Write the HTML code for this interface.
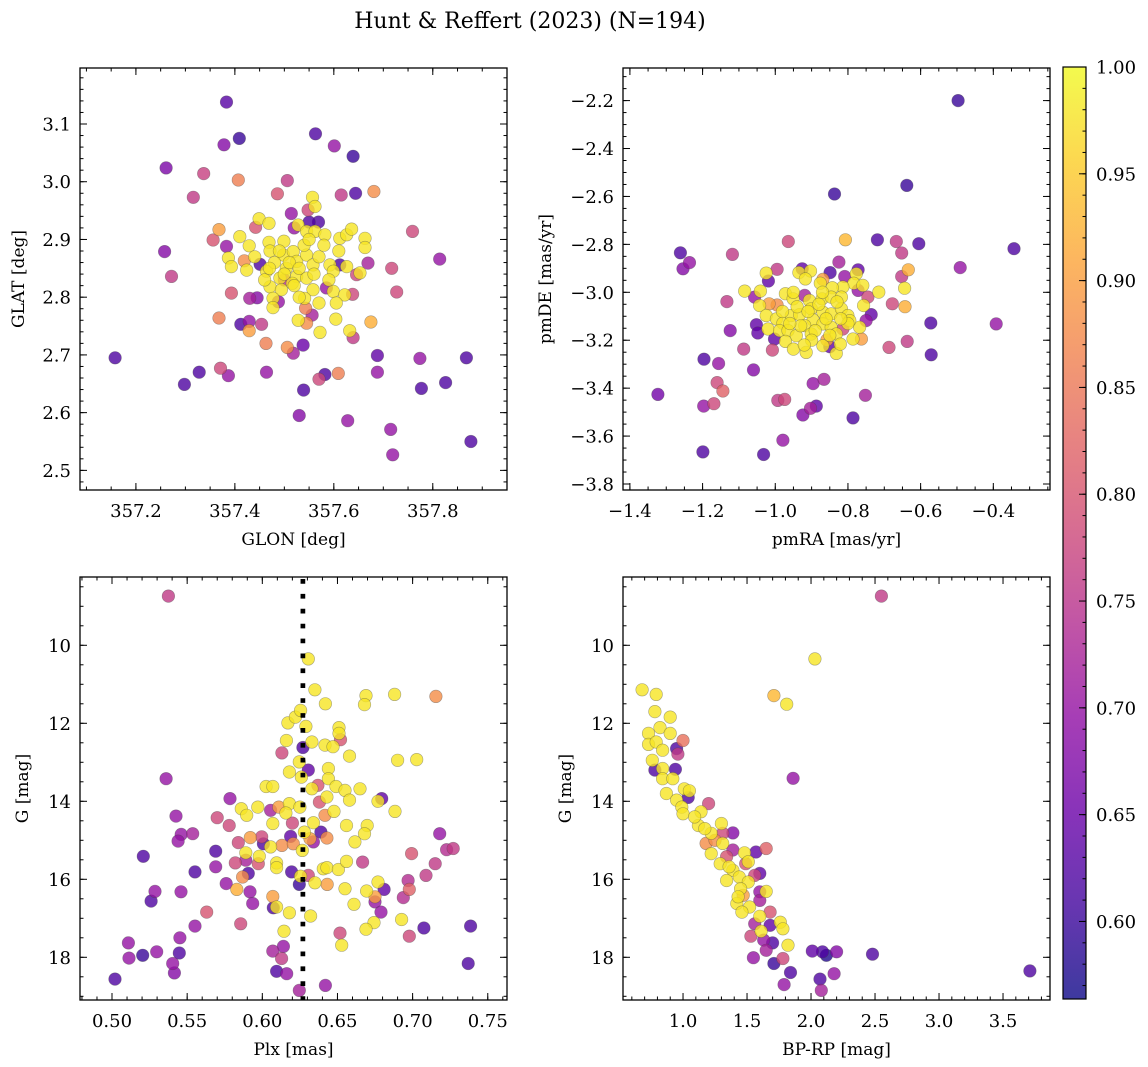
<!DOCTYPE html>
<html><head><meta charset="utf-8"><style>
html,body{margin:0;padding:0;background:#fff;}
svg{display:block;font-family:"DejaVu Serif","Liberation Serif",serif;}
</style></head><body>
<svg id="fig" width="1148" height="1067" viewBox="0 0 1148 1067" xmlns="http://www.w3.org/2000/svg">
<text x="530" y="28" font-size="22" text-anchor="middle">Hunt &amp; Reffert (2023) (N=194)</text>
</svg>
<script>
// ---- Panel 1: GLON / GLAT ----
const glon=[357.383,357.409,357.378,357.563,357.601,357.639,357.261,357.337,357.407,357.506,357.316,357.486,357.615,357.644,357.681,357.557,357.562,357.548,357.514,357.569,357.442,357.449,357.469,357.368,357.356,357.410,357.429,357.383,357.469,357.471,357.499,357.528,357.545,357.562,357.582,357.612,357.626,357.636,357.663,357.663,357.759,357.258,357.272,357.814,357.717,357.727,357.669,357.387,357.393,357.419,357.424,357.451,357.464,357.498,357.518,357.525,357.545,357.558,357.592,357.612,357.626,357.646,357.653,357.599,357.491,357.504,357.525,357.545,357.558,357.585,357.599,357.622,357.638,357.471,357.494,357.516,357.541,357.477,357.488,357.477,357.605,357.393,357.430,357.445,357.543,357.556,357.528,357.545,357.572,357.604,357.632,357.639,357.675,357.368,357.412,357.429,357.429,357.454,357.463,357.506,357.518,357.538,357.158,357.298,357.328,357.371,357.387,357.464,357.582,357.570,357.609,357.688,357.688,357.774,357.868,357.539,357.777,357.826,357.530,357.628,357.715,357.719,357.877,
357.48,357.51,357.53,357.50,357.52,357.56,357.57,357.54,357.49,357.46,357.44,357.59,357.61,357.53,357.57,357.47,357.55,357.58,357.52,357.55,357.50];
const glat=[3.138,3.075,3.064,3.083,3.062,3.044,3.024,3.014,3.003,3.002,2.973,2.979,2.977,2.980,2.983,2.973,2.957,2.951,2.945,2.930,2.921,2.936,2.928,2.917,2.899,2.905,2.889,2.888,2.895,2.880,2.897,2.925,2.914,2.914,2.908,2.902,2.908,2.918,2.902,2.886,2.914,2.879,2.836,2.866,2.850,2.809,2.859,2.868,2.853,2.863,2.847,2.857,2.845,2.873,2.879,2.862,2.873,2.856,2.856,2.856,2.853,2.839,2.842,2.845,2.833,2.850,2.836,2.833,2.813,2.816,2.810,2.804,2.805,2.818,2.813,2.824,2.798,2.798,2.792,2.782,2.790,2.807,2.798,2.799,2.781,2.769,2.760,2.755,2.739,2.762,2.742,2.730,2.757,2.764,2.753,2.758,2.742,2.753,2.720,2.713,2.703,2.717,2.695,2.649,2.670,2.677,2.664,2.670,2.666,2.658,2.668,2.699,2.670,2.694,2.695,2.639,2.642,2.652,2.595,2.586,2.571,2.527,2.550,
2.86,2.86,2.85,2.84,2.82,2.84,2.87,2.89,2.88,2.83,2.87,2.83,2.88,2.80,2.79,2.85,2.90,2.89,2.92,2.93,2.83];
const probA=[.63,.60,.68,.62,.70,.60,.67,.77,.86,.76,.76,.80,.76,.62,.88,.98,.98,.78,.70,.62,.80,.98,.98,.90,.80,.98,.98,.70,.98,.98,.98,.98,.98,.98,.98,.98,.98,.98,.98,.98,.78,.68,.76,.70,.78,.78,.72,.98,.98,.88,.98,.62,.98,.98,.98,.98,.98,.98,.98,.62,.98,.78,.98,.98,.98,.98,.98,.98,.98,.70,.98,.98,.78,.98,.98,.98,.98,.98,.70,.98,.98,.80,.72,.68,.86,.72,.98,.88,.98,.98,.98,.76,.92,.86,.62,.70,.90,.76,.86,.88,.72,.65,.62,.62,.62,.78,.70,.70,.62,.78,.86,.64,.70,.70,.62,.62,.62,.62,.68,.70,.70,.70,.62,
.98,.98,.98,.98,.98,.98,.98,.98,.98,.98,.98,.98,.98,.98,.98,.98,.98,.98,.70,.62,.75];
const ticksA_x=[357.2,357.4,357.6,357.8];
const ticksA_y=[2.5,2.6,2.7,2.8,2.9,3.0,3.1];

// ---- Panel 2: pmRA / pmDE ----
const pmra=[-0.497,-0.837,-0.638,-0.343,-1.261,-1.236,-1.254,-1.118,-0.964,-0.807,-0.719,-0.667,-0.652,-0.605,-0.634,-0.652,-0.644,-0.643,-0.491,-0.825,-0.995,-1.019,-1.025,-0.926,-0.935,-0.903,-0.917,-0.869,-0.876,-0.849,-0.809,-0.772,-0.777,-0.784,-0.759,-0.814,-0.843,-0.715,-1.084,-1.041,-1.057,-1.133,-1.043,-1.017,-0.995,-0.972,-0.951,-0.919,-0.906,-0.871,-0.846,-0.818,-0.772,-0.745,-0.757,-0.678,-1.025,-0.997,-0.979,-0.956,-0.933,-0.901,-0.896,-0.869,-0.846,-0.818,-0.800,-0.736,-0.750,-0.768,-0.795,-1.052,-1.048,-1.020,-0.988,-0.965,-0.942,-0.919,-0.901,-0.869,-0.846,-0.832,-0.814,-0.786,-0.763,-1.002,-0.972,-0.950,-0.915,-0.869,-0.850,-0.832,-0.821,-0.858,-0.572,-0.392,-0.637,-0.687,-0.571,-1.124,-1.087,-1.008,-1.196,-1.156,-1.060,-1.160,-1.144,-1.323,-1.197,-1.169,-0.993,-0.974,-0.896,-0.866,-0.752,-0.887,-0.903,-0.924,-0.786,-0.979,-1.199,-1.032,
-0.94,-0.91,-0.88,-0.86,-0.83,-0.93,-0.89,-0.96,-0.85,-0.80,-0.98,-0.90,-0.87,-0.95,-0.92,-0.82];
const pmde=[-2.200,-2.590,-2.554,-2.818,-2.835,-2.876,-2.902,-2.842,-2.788,-2.781,-2.781,-2.788,-2.836,-2.797,-2.906,-2.934,-2.983,-3.060,-2.897,-2.874,-2.904,-2.953,-2.920,-2.902,-2.918,-2.911,-2.944,-2.946,-2.962,-2.918,-2.934,-2.906,-2.923,-2.962,-2.971,-2.978,-2.981,-2.999,-2.995,-2.995,-3.020,-3.039,-3.055,-3.048,-3.053,-3.006,-3.027,-3.013,-3.034,-3.027,-3.020,-3.020,-2.992,-3.020,-3.055,-3.048,-3.097,-3.111,-3.129,-3.097,-3.093,-3.069,-3.115,-3.083,-3.090,-3.069,-3.097,-3.093,-3.118,-3.146,-3.118,-3.135,-3.170,-3.153,-3.160,-3.160,-3.181,-3.139,-3.174,-3.132,-3.146,-3.174,-3.153,-3.195,-3.195,-3.195,-3.205,-3.237,-3.251,-3.223,-3.227,-3.255,-3.216,-3.199,-3.128,-3.132,-3.205,-3.230,-3.261,-3.160,-3.237,-3.241,-3.279,-3.297,-3.324,-3.377,-3.412,-3.426,-3.475,-3.465,-3.451,-3.447,-3.381,-3.363,-3.430,-3.475,-3.484,-3.512,-3.524,-3.617,-3.666,-3.677,
-3.06,-3.08,-3.05,-3.11,-3.04,-3.14,-3.16,-3.13,-3.18,-3.13,-3.08,-3.20,-3.00,-3.00,-3.22,-3.11];
const probB=[.60,.60,.60,.62,.62,.70,.68,.76,.78,.93,.62,.76,.76,.62,.92,.76,.98,.92,.70,.72,.76,.64,.98,.64,.98,.98,.98,.90,.98,.62,.70,.64,.98,.98,.98,.98,.98,.98,.98,.98,.70,.76,.98,.90,.88,.98,.98,.72,.98,.98,.98,.98,.70,.78,.98,.78,.98,.98,.98,.98,.98,.98,.98,.98,.98,.98,.98,.64,.70,.98,.98,.64,.64,.98,.98,.98,.98,.98,.98,.98,.98,.98,.78,.98,.90,.64,.98,.98,.98,.98,.64,.98,.98,.90,.62,.70,.76,.78,.62,.68,.76,.78,.62,.70,.68,.78,.82,.66,.70,.78,.76,.78,.70,.72,.72,.64,.72,.68,.62,.70,.62,.62,
.98,.98,.98,.98,.98,.98,.98,.98,.98,.98,.98,.98,.98,.98,.98,.98];
const ticksB_x=[-1.4,-1.2,-1.0,-0.8,-0.6,-0.4];
const ticksB_y=[-3.8,-3.6,-3.4,-3.2,-3.0,-2.8,-2.6,-2.4,-2.2];

// ---- Panel 3: Plx / G ----
const plx=[0.5375,0.6306,0.635,0.642,0.669,0.668,0.688,0.7155,0.617,0.622,0.6255,0.629,0.651,0.651,0.652,0.616,0.633,0.6417,0.647,0.658,0.613,0.627,0.690,0.7027,0.6246,0.618,0.6306,0.644,0.644,0.626,0.6025,0.607,0.633,0.637,0.649,0.655,0.665,0.536,0.5785,0.6794,0.677,0.658,0.643,0.638,0.618,0.611,0.625,0.586,0.597,0.5896,0.6055,0.6157,0.6417,0.6477,0.6883,0.5426,0.57,0.578,0.607,0.62,0.634,0.639,0.628,0.656,0.6698,0.668,0.718,0.546,0.544,0.5537,0.584,0.592,0.5996,0.6007,0.6188,0.613,0.6206,0.6317,0.634,0.643,0.6616,0.569,0.6055,0.6266,0.589,0.598,0.589,0.582,0.5973,0.5208,0.569,0.6095,0.6095,0.6406,0.643,0.6506,0.656,0.6667,0.6993,0.715,0.7226,0.727,0.5552,0.5907,0.5869,0.6195,0.6255,0.6306,0.576,0.583,0.5918,0.6246,0.635,0.6432,0.655,0.6694,0.677,0.681,0.7089,0.697,0.6978,0.6938,0.5286,0.5459,0.526,0.5936,0.607,0.6095,0.6073,0.675,0.675,0.661,0.679,0.563,0.618,0.6321,0.6927,0.5552,0.5856,0.6743,0.669,0.7075,0.7386,0.6144,0.6517,0.6978,0.5452,0.5109,0.6528,0.614,0.607,0.6128,0.5113,0.5204,0.5297,0.5448,0.5404,0.737,0.5415,0.6095,0.6162,0.502,0.642,0.6246];
const gmag3=[8.74,10.35,11.14,11.5,11.29,11.52,11.26,11.31,11.99,11.84,11.67,12.08,12.11,12.26,12.42,12.44,12.48,12.56,12.6,12.84,12.76,12.62,12.95,12.93,12.99,13.25,13.2,13.16,13.42,13.38,13.62,13.62,13.68,13.59,13.62,13.72,13.68,13.42,13.93,13.93,14.0,13.97,13.89,14.02,14.06,14.15,14.15,14.19,14.15,14.36,14.23,14.3,14.36,14.26,14.26,14.38,14.42,14.62,14.57,14.56,14.55,14.79,14.79,14.62,14.62,14.83,14.83,14.85,15.02,14.83,15.06,14.93,14.91,15.09,14.9,15.13,15.09,14.96,15.04,14.94,15.04,15.28,15.17,15.26,15.32,15.41,15.51,15.58,15.6,15.41,15.68,15.58,15.7,15.73,15.7,15.75,15.54,15.56,15.34,15.6,15.24,15.21,15.81,15.85,15.94,15.81,15.92,15.9,16.11,16.26,16.32,16.13,16.09,16.13,16.24,16.3,16.07,16.26,15.9,16.03,16.26,16.47,16.31,16.32,16.56,16.62,16.44,16.71,16.73,16.45,16.58,16.64,16.84,16.84,16.86,16.94,17.03,17.2,17.14,17.11,17.28,17.25,17.2,17.33,17.38,17.46,17.5,17.63,17.69,17.72,17.84,18.03,18.02,17.95,17.86,17.89,18.16,18.16,18.4,18.36,18.42,18.56,18.72,18.85];
const probC=[.76,.98,.98,.98,.98,.98,.98,.88,.98,.98,.98,.98,.98,.98,.80,.98,.98,.98,.98,.98,.78,.62,.98,.98,.98,.98,.64,.98,.98,.98,.98,.98,.98,.80,.98,.98,.98,.70,.70,.64,.98,.98,.98,.80,.98,.90,.98,.98,.98,.98,.72,.98,.88,.98,.98,.70,.78,.78,.98,.78,.98,.62,.98,.98,.98,.98,.70,.70,.70,.72,.78,.90,.78,.62,.64,.88,.88,.90,.70,.88,.98,.62,.98,.98,.98,.98,.72,.78,.80,.62,.70,.98,.98,.98,.98,.98,.98,.76,.80,.76,.74,.76,.62,.62,.88,.62,.98,.78,.70,.92,.70,.60,.98,.90,.98,.98,.98,.64,.76,.74,.82,.74,.70,.70,.62,.70,.90,.98,.62,.90,.70,.98,.70,.80,.98,.98,.98,.70,.78,.98,.98,.62,.62,.98,.78,.78,.70,.70,.98,.70,.72,.76,.70,.60,.70,.62,.70,.62,.68,.62,.70,.62,.70,.72];
const ticksC_x=[0.50,0.55,0.60,0.65,0.70,0.75];
const ticksG=[10,12,14,16,18];
const plxLine=[0.627];

// ---- Panel 4: BP-RP / G ----
const bprp=[0.68,0.79,0.78,0.90,0.82,0.73,0.73,0.79,1.00,0.95,0.96,0.84,0.76,0.84,0.78,0.94,0.84,0.92,1.01,0.87,1.04,0.95,1.20,0.99,1.00,1.14,1.12,1.30,1.39,1.22,1.18,1.31,1.22,1.39,1.34,1.57,1.65,1.48,1.51,1.29,1.39,1.44,1.34,1.60,1.56,1.51,1.45,1.47,1.60,1.65,1.42,1.52,1.60,1.68,1.46,1.60,1.56,1.68,1.76,1.78,1.61,1.53,1.63,1.70,1.82,1.65,1.55,1.78,1.71,2.01,2.09,2.12,2.20,2.48,3.71,1.84,2.07,2.18,1.79,2.08,2.55,2.03,1.71,1.81,1.86,0.90,1.05,1.09,1.17,1.25,1.36,1.31,1.43,1.49];
const gmag4=[11.14,11.26,11.70,11.84,12.11,12.26,12.54,12.48,12.44,12.65,12.79,12.69,12.95,13.16,13.20,13.18,13.42,13.42,13.68,13.80,13.90,13.97,14.06,14.15,14.32,14.27,14.62,14.57,14.81,14.82,15.08,15.08,15.34,15.25,15.42,15.30,15.21,15.32,15.55,15.60,15.77,15.94,16.03,15.85,15.90,16.07,16.24,16.41,16.32,16.31,16.62,16.71,16.54,16.84,16.84,16.95,17.14,17.18,17.10,17.27,17.33,17.46,17.56,17.63,17.69,17.82,18.01,18.03,18.16,17.84,17.86,17.95,17.86,17.92,18.35,18.39,18.56,18.42,18.70,18.85,8.74,10.35,11.29,11.51,13.41,12.26,13.73,14.40,14.70,15.00,15.68,14.82,16.45,15.60];
const probD=[.98,.98,.98,.98,.98,.98,.98,.98,.84,.62,.76,.98,.98,.98,.62,.62,.98,.98,.98,.98,.62,.98,.78,.98,.98,.98,.98,.98,.68,.98,.88,.98,.98,.72,.80,.64,.82,.98,.98,.98,.98,.98,.98,.64,.78,.98,.98,.90,.70,.98,.98,.98,.72,.80,.98,.98,.72,.64,.98,.98,.98,.78,.70,.62,.98,.72,.70,.78,.60,.64,.62,.58,.68,.62,.62,.62,.62,.70,.70,.72,.76,.98,.93,.98,.70,.98,.98,.98,.98,.88,.98,.78,.98,.80];
const ticksD_x=[1.0,1.5,2.0,2.5,3.0,3.5];
const cbarTicks=[0.60,0.65,0.70,0.75,0.80,0.85,0.90,0.95,1.00];

const VMIN=0.5637, VMAX=1.0;
const NS="http://www.w3.org/2000/svg";
const svg=document.getElementById('fig');
const plasma=[[13,8,135],[65,4,157],[106,0,168],[143,13,164],[177,42,144],[204,71,120],[225,100,98],[242,132,75],[252,166,54],[252,206,37],[240,249,33]];
function cmap(v){let t=(v-VMIN)/(VMAX-VMIN);t=Math.max(0,Math.min(1,t))*10;const i=Math.min(9,Math.floor(t)),f=t-i;const a=plasma[i],b=plasma[i+1];
return 'rgb('+a.map((x,k)=>Math.round(x+(b[k]-x)*f)).join(',')+')';}
function mk(tag,attrs,parent){const e=document.createElementNS(NS,tag);for(const k in attrs)e.setAttribute(k,attrs[k]);(parent||svg).appendChild(e);return e;}
function fmt(v,d){const s=Math.abs(v).toFixed(d);return (v<0?'\u2212':'')+s;}
const TF=18;

function panel(o){
  const g=mk('g',{});
  
  
  const sx=v=>o.x0+(v-o.xlim[0])/(o.xlim[1]-o.xlim[0])*(o.x1-o.x0);
  const sy=v=>o.y1-(v-o.ylim[0])/(o.ylim[1]-o.ylim[0])*(o.y1-o.y0);
  const idx=o.xs.map((_,i)=>i).sort((a,b)=>o.cs[a]-o.cs[b]);
  const pg=mk('g',{},g);
  
  
  idx.forEach(i=>{
    const c=mk('circle',{cx:sx(o.xs[i]).toFixed(1),cy:sy(o.ys[i]).toFixed(1),r:6.3,fill:cmap(o.cs[i]),'fill-opacity':0.8,stroke:'#444','stroke-opacity':0.45,'stroke-width':0.6},pg);
    
    
  });
  if(o.vline){o.vline.forEach(v=>{
    const l=mk('line',{x1:sx(v),x2:sx(v),y1:o.y0+2,y2:o.y1,stroke:'#000','stroke-width':4.7,'stroke-dasharray':'4.7 10.2'},g);
    
    
  });}
  const frame=mk('rect',{x:o.x0,y:o.y0,width:o.x1-o.x0,height:o.y1-o.y0,fill:'none',stroke:'#000','stroke-width':1.3},g);
  
  
  const tg=mk('g',{stroke:'#000','stroke-width':1},g);
  
  
  const lo=Math.min(...o.xlim),hi=Math.max(...o.xlim);
  for(let k=Math.ceil(lo/o.xminor-1e-6);k*o.xminor<=hi;k++){const x=sx(k*o.xminor);
    mk('line',{x1:x,x2:x,y1:o.y1,y2:o.y1-3.5},tg);mk('line',{x1:x,x2:x,y1:o.y0,y2:o.y0+3.5},tg);}
  const ylo=Math.min(...o.ylim),yhi=Math.max(...o.ylim);
  for(let k=Math.ceil(ylo/o.yminor-1e-6);k*o.yminor<=yhi;k++){const y=sy(k*o.yminor);
    mk('line',{x1:o.x0,x2:o.x0+3.5,y1:y,y2:y},tg);mk('line',{x1:o.x1,x2:o.x1-3.5,y1:y,y2:y},tg);}
  o.xt.forEach(v=>{const x=sx(v);
    mk('line',{x1:x,x2:x,y1:o.y1,y2:o.y1-7},tg);mk('line',{x1:x,x2:x,y1:o.y0,y2:o.y0+7},tg);
    const t=mk('text',{x:x,y:o.y1+27,'font-size':TF,'text-anchor':'middle'},g);t.textContent=fmt(v,o.xd);
    
    });
  o.yt.forEach(v=>{const y=sy(v);
    mk('line',{x1:o.x0,x2:o.x0+7,y1:y,y2:y},tg);mk('line',{x1:o.x1,x2:o.x1-7,y1:y,y2:y},tg);
    const t=mk('text',{x:o.x0-9,y:y+6.5,'font-size':TF,'text-anchor':'end'},g);t.textContent=fmt(v,o.yd);
    
    });
  const xl=mk('text',{x:(o.x0+o.x1)/2,y:o.y1+55,'font-size':17,'text-anchor':'middle'},g);xl.textContent=o.xlab;
  
  
  const cy=(o.y0+o.y1)/2;
  const yl=mk('text',{x:o.ylx,y:cy,'font-size':17,'text-anchor':'middle',transform:'rotate(-90 '+o.ylx+' '+cy+')'},g);yl.textContent=o.ylab;
  
  
}

panel({name:'panel-glon-glat',x0:80,x1:507,y0:68,y1:490,xlim:[357.087,357.950],ylim:[2.466,3.197],xt:ticksA_x,yt:ticksA_y,xminor:0.05,yminor:0.02,xd:1,yd:1,xlab:'GLON [deg]',ylab:'GLAT [deg]',ylx:24,xs:glon,ys:glat,cs:probA});
panel({name:'panel-pmra-pmde',x0:623,x1:1050,y0:68,y1:490,xlim:[-1.419,-0.244],ylim:[-3.825,-2.064],xt:ticksB_x,yt:ticksB_y,xminor:0.05,yminor:0.05,xd:1,yd:1,xlab:'pmRA [mas/yr]',ylab:'pmDE [mas/yr]',ylx:551,xs:pmra,ys:pmde,cs:probB});
panel({name:'panel-plx-g',x0:80,x1:507,y0:577,y1:1000,xlim:[0.4787,0.7628],ylim:[19.095,8.249],xt:ticksC_x,yt:ticksG,xminor:0.01,yminor:0.5,xd:2,yd:0,xlab:'Plx [mas]',ylab:'G [mag]',ylx:28,xs:plx,ys:gmag3,cs:probC,vline:plxLine});
panel({name:'panel-bprp-g',x0:623,x1:1050,y0:577,y1:1000,xlim:[0.531,3.867],ylim:[19.095,8.249],xt:ticksD_x,yt:ticksG,xminor:0.1,yminor:0.5,xd:1,yd:0,xlab:'BP-RP [mag]',ylab:'G [mag]',ylx:571,xs:bprp,ys:gmag4,cs:probD});

// colorbar
(function(){
  const cx0=1063,cx1=1086,cy0=67,cy1=999;
  const g=mk('g',{});
  
  
  const sy=v=>cy1-(v-VMIN)/(VMAX-VMIN)*(cy1-cy0);
  const defs=mk('defs',{},g);
  const lg=mk('linearGradient',{id:'cbgrad',x1:0,y1:1,x2:0,y2:0},defs);
  for(let i=0;i<=20;i++){const v=VMIN+(VMAX-VMIN)*i/20;mk('stop',{offset:(i/20),'stop-color':cmap(v)},lg);}
  mk('rect',{x:cx0,y:cy0,width:cx1-cx0,height:cy1-cy0,fill:'url(#cbgrad)','fill-opacity':0.8},g);
  mk('rect',{x:cx0,y:cy0,width:cx1-cx0,height:cy1-cy0,fill:'none',stroke:'#000','stroke-width':1.2},g);
  for(let k=57;k<=100;k++){const y=sy(k/100);mk('line',{x1:cx1,x2:cx1-3.5,y1:y,y2:y,stroke:'#000','stroke-width':1},g);}
  cbarTicks.forEach(v=>{const y=sy(v);mk('line',{x1:cx1,x2:cx1-7,y1:y,y2:y,stroke:'#000','stroke-width':1},g);
    const t=mk('text',{x:cx1+10,y:y+6.5,'font-size':TF},g);t.textContent=v.toFixed(2);
    
    });
})();
</script>
</body></html>
